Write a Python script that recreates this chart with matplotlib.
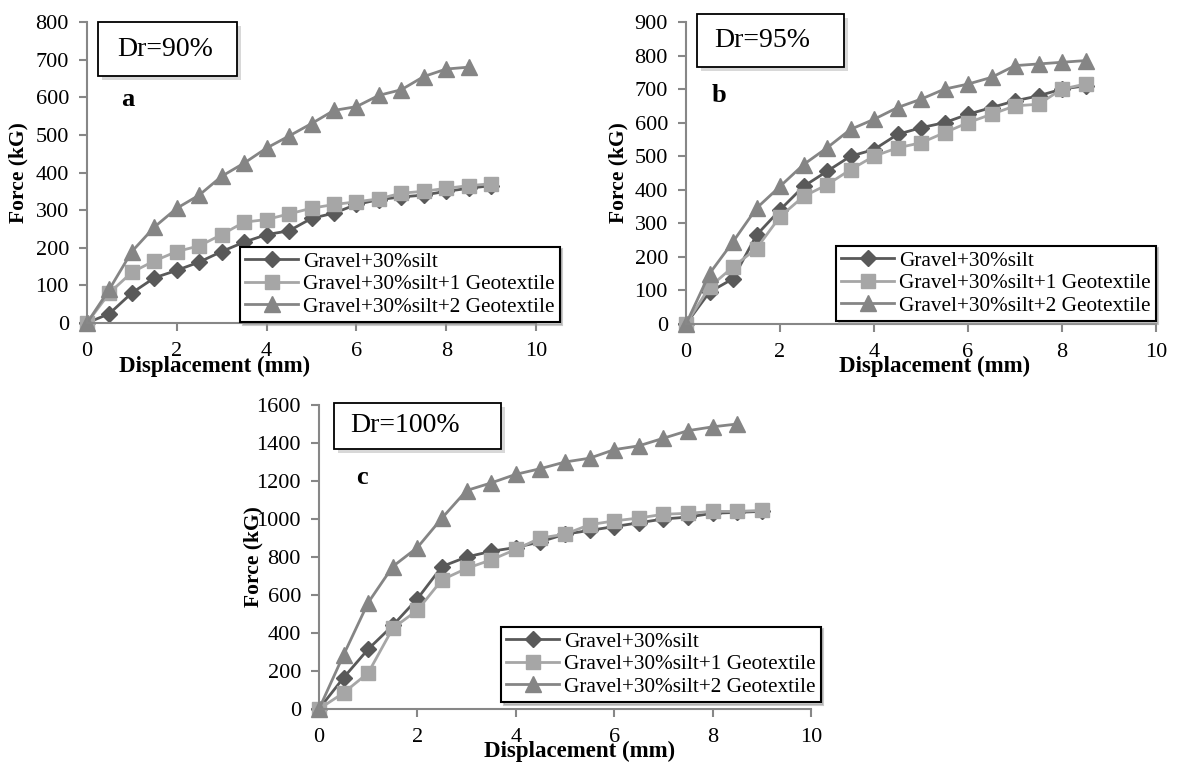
import matplotlib
matplotlib.use("Agg")
import matplotlib.pyplot as plt
from matplotlib.patches import Rectangle

plt.rcParams['font.family'] = ['Liberation Serif', 'DejaVu Serif']

# displacement (mm)
disp = [0, 0.5, 1, 1.5, 2, 2.5, 3, 3.5, 4, 4.5, 5, 5.5, 6, 6.5, 7, 7.5, 8, 8.5, 9]

labels = ['Gravel+30%silt', 'Gravel+30%silt+1 Geotextile', 'Gravel+30%silt+2 Geotextile']

# a : Dr=90%
a_silt = [0, 25, 80, 120, 140, 162, 190, 215, 235, 245, 278, 292, 315, 328, 335, 340, 350, 358, 365]
a_geo1 = [0, 80, 135, 165, 190, 205, 235, 268, 275, 290, 305, 315, 322, 330, 345, 350, 358, 365, 370]
a_geo2 = [0, 90, 190, 255, 305, 340, 390, 425, 465, 497, 530, 565, 575, 605, 620, 655, 675, 680]

# b : Dr=95%
b_silt = [0, 95, 135, 265, 340, 410, 455, 500, 520, 565, 585, 600, 625, 645, 665, 680, 700, 710]
b_geo1 = [0, 110, 170, 225, 320, 380, 415, 460, 500, 525, 540, 570, 600, 625, 650, 655, 700, 715]
b_geo2 = [0, 150, 245, 345, 410, 475, 525, 580, 610, 645, 670, 700, 715, 735, 770, 775, 780, 785]

# c : Dr=100%
c_silt = [0, 165, 315, 440, 580, 750, 800, 830, 850, 880, 920, 940, 960, 980, 1000, 1010, 1030, 1035, 1040]
c_geo1 = [0, 85, 190, 425, 520, 680, 740, 785, 840, 900, 920, 970, 990, 1005, 1025, 1030, 1040, 1040, 1045]
c_geo2 = [0, 285, 560, 750, 850, 1005, 1150, 1190, 1235, 1265, 1300, 1320, 1365, 1385, 1425, 1465, 1485, 1500]

W, H = 1177, 762
fig = plt.figure(figsize=(W / 100, H / 100), dpi=100)


def fx(px):
    return px / W


def fy(py):
    return 1 - py / H


styles = [
    dict(color='#595959', marker='D', markersize=8),
    dict(color='#a6a6a6', marker='s', markersize=10),
    dict(color='#858585', marker='^', markersize=11),
]


def panel(rect, series, ymax, ystep, dr_text, dr_box, letter, letter_pos,
          leg_pos, xlabel_x, ylabel_x, xlabel_y):
    ax = fig.add_axes(rect)
    for ys, lab, st in zip(series, labels, styles):
        ax.plot(disp[:len(ys)], ys, lw=2, label=lab, clip_on=False, **st)
    ax.set_xlim(0, 10)
    ax.set_ylim(0, ymax)
    ax.set_xticks(range(0, 11, 2))
    ax.set_yticks(range(0, ymax + 1, ystep))
    for s in ['top', 'right']:
        ax.spines[s].set_visible(False)
    for s in ['left', 'bottom']:
        ax.spines[s].set_color('#878787')
        ax.spines[s].set_linewidth(1.5)
    ax.tick_params(colors='#878787', labelcolor='black', labelsize=16,
                   width=1.5, length=6)
    ax.tick_params(axis='x', pad=8)
    ax.tick_params(axis='y', pad=7)
    leg = ax.legend(loc='lower left', bbox_to_anchor=(fx(leg_pos[0]), fy(leg_pos[1])),
                    bbox_transform=fig.transFigure, fontsize=15.3, frameon=True,
                    fancybox=False, edgecolor='black', handlelength=2.5,
                    borderpad=0.25, labelspacing=0.12, handletextpad=0.2,
                    borderaxespad=0, shadow={'color': '0.6', 'alpha': 0.5})
    leg.get_frame().set_linewidth(1.5)
    fig.text(fx(xlabel_x), fy(xlabel_y), 'Displacement (mm)', ha='center', va='center',
             fontsize=16.5, fontweight='bold')
    fig.text(fx(ylabel_x), rect[1] + rect[3] / 2, 'Force (kG)', ha='center',
             va='center', rotation=90, fontsize=15.5, fontweight='bold')
    # Dr box with shadow
    x0, y0, x1, y1 = dr_box
    fig.patches.append(Rectangle((fx(x0 + 4), fy(y1 + 4)), fx(x1 - x0), (y1 - y0) / H,
                                 transform=fig.transFigure, facecolor='0.75',
                                 edgecolor='none', alpha=0.6, zorder=5))
    fig.patches.append(Rectangle((fx(x0), fy(y1)), fx(x1 - x0), (y1 - y0) / H,
                                 transform=fig.transFigure, facecolor='white',
                                 edgecolor='black', lw=1.3, zorder=6))
    fig.text(fx(dr_text[1]), fy((y0 + y1) / 2), dr_text[0], ha='center', va='center',
             fontsize=20, zorder=7)
    fig.text(fx(letter_pos[0]), fy(letter_pos[1]), letter, ha='center', va='center',
             fontsize=19, fontweight='bold')
    return ax


panel([fx(87), fy(323), fx(536 - 87), (323 - 22) / H], [a_silt, a_geo1, a_geo2],
      800, 100, ('Dr=90%', 165), (98, 22, 237, 76), 'a', (128, 100),
      (240, 322), 215, 18, 366)

panel([fx(686), fy(324), fx(1156 - 686), (324 - 22) / H], [b_silt, b_geo1, b_geo2],
      900, 100, ('Dr=95%', 762), (697, 14, 844, 67), 'b', (719, 95),
      (836, 321), 935, 618, 366)

panel([fx(319), fy(709), fx(811 - 319), (709 - 405) / H], [c_silt, c_geo1, c_geo2],
      1600, 200, ('Dr=100%', 405), (334, 403, 501, 449), 'c', (362, 478),
      (501, 702), 580, 253, 751)

fig.savefig('out.png', dpi=100)
